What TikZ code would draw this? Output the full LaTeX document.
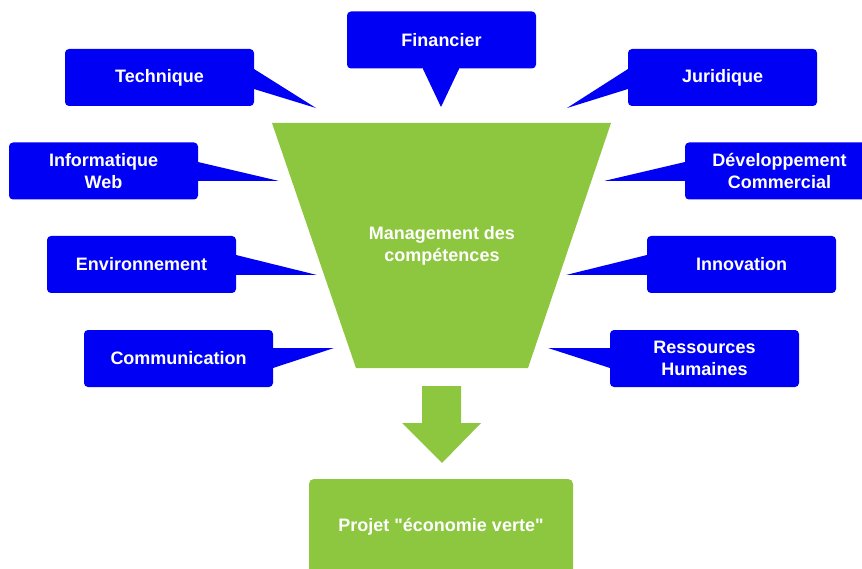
\documentclass[tikz,border=0pt]{standalone}
\usepackage{fontspec}
\setmainfont{Liberation Sans}[Ligatures=TeXOff]
\definecolor{cblue}{RGB}{0,0,245}
\definecolor{cgreen}{RGB}{141,198,63}
\begin{document}
\begin{tikzpicture}[x=1pt,y=-1pt,
  bubble/.style={fill=cblue, rounded corners=4pt, minimum width=189pt, minimum height=57pt, inner sep=0pt,
    text=white, font=\bfseries\fontsize{18}{22.5}\selectfont, align=center},
  tail/.style={fill=cblue},
  greenfill/.style={fill=cgreen},
  lbl/.style={text=white, font=\bfseries\fontsize{18}{22.5}\selectfont, align=center, inner sep=0pt}]
\useasboundingbox (0,0) rectangle (862,569);
\clip (0,0) rectangle (862,569);
% funnel
\fill[greenfill] (272,123) -- (611,123) -- (528,368) -- (356,368) -- cycle;
\node[lbl] (mgmt) at (442,246) {Management des\\compétences};
% bubbles
\node[bubble] (tech) at (159.5,77.5) {Technique};
\node[bubble] (fin) at (441.5,40) {Financier};
\node[bubble] (jur) at (722.5,77.5) {Juridique};
\node[bubble] (info) at (103.5,171) {Informatique\\Web};
\node[bubble] (dev) at (779.5,171) {Développement\\Commercial};
\node[bubble] (env) at (141.5,264.5) {Environnement};
\node[bubble] (inno) at (741.5,264.5) {Innovation};
\node[bubble] (comm) at (178.5,358.5) {Communication};
\node[bubble] (rh) at (704.5,358.5) {Ressources\\Humaines};
% tail tips
\coordinate (ttech) at (316,108);
\coordinate (tfin) at (441,107);
\coordinate (tjur) at (567,108);
\coordinate (tinfo) at (279,181);
\coordinate (tdev) at (604,181);
\coordinate (tenv) at (317,275);
\coordinate (tinno) at (566,275);
\coordinate (tcomm) at (334,348);
\coordinate (trh) at (548,348);
% tails
\fill[tail] (250,69) -- (254,69) -- (ttech) -- (254,89) -- (250,89) -- cycle;
\fill[tail] (423,65) -- (423,69) -- (tfin) -- (459,69) -- (459,65) -- cycle;
\fill[tail] (632,69) -- (628,69) -- (tjur) -- (628,89) -- (632,89) -- cycle;
\fill[tail] (194,162) -- (198,162) -- (tinfo) -- (194,181) -- cycle;
\fill[tail] (689,162) -- (685,162) -- (tdev) -- (689,181) -- cycle;
\fill[tail] (232,255) -- (236,255) -- (tenv) -- (232,275) -- cycle;
\fill[tail] (651,255) -- (647,255) -- (tinno) -- (651,275) -- cycle;
\fill[tail] (269,348) -- (tcomm) -- (273,368) -- (269,368) -- cycle;
\fill[tail] (614,348) -- (trh) -- (610,368) -- (614,368) -- cycle;
% arrow
\fill[greenfill] (422,386) -- (461,386) -- (461,423) -- (481,423) -- (442,463) -- (402,423) -- (422,423) -- cycle;
% project box
\fill[greenfill, rounded corners=5pt] (309,600) -- (309,479) -- (573,479) -- (573,600) -- cycle;
\node[lbl] (proj) at (441,527) {Projet "économie verte"};
\end{tikzpicture}
\end{document}
